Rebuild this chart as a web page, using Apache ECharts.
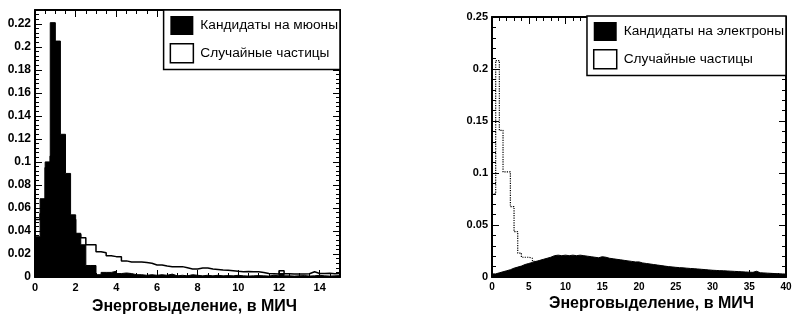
<!DOCTYPE html>
<html><head><meta charset="utf-8">
<script src="https://cdn.jsdelivr.net/npm/echarts@6/dist/echarts.min.js"></script>
<style>html,body{margin:0;padding:0;background:#fff}#c{width:795px;height:314px}</style>
</head><body><div id="c"></div>
<script>
// ---- data ----
const axisTitle = 'Энерговыделение, в МИЧ';
const muonName = 'Кандидаты на мюоны';
const electronName = 'Кандидаты на электроны';
const randomName = 'Случайные частицы';

const muonBinWidth = 0.25;   // 60 bins, 0..15
const muonCandidates = [
  0.035, 0.068, 0.100, 0.221, 0.205, 0.124, 0.090, 0.054, 0.038, 0.028,
  0.010, 0.010, 0.002, 0.004, 0.004, 0.005, 0.003, 0.0035, 0.003, 0.002,
  0.002, 0.0015, 0.002, 0.0015, 0.002, 0.0015, 0.0025, 0.001, 0.0015, 0.001,
  0.002, 0.0015, 0.001, 0.0015, 0.001, 0.0015, 0.001, 0.0012, 0.001, 0.0015,
  0.001, 0.0008, 0.001, 0.0012, 0.001, 0.0008, 0.0015, 0.001, 0.003, 0.001,
  0.0008, 0.001, 0.0012, 0.0008, 0.001, 0.0015, 0.001, 0.0008, 0.001, 0.0012
];
const muonRandom = [
  0.050, 0.055, 0.095, 0.105, 0.075, 0.068, 0.050, 0.050, 0.037, 0.034,
  0.028, 0.028, 0.022, 0.021, 0.0185, 0.0177, 0.0175, 0.014, 0.013, 0.013,
  0.013, 0.0125, 0.012, 0.0105, 0.0105, 0.0095, 0.009, 0.009, 0.009, 0.008,
  0.007, 0.007, 0.0078, 0.0078, 0.007, 0.0065, 0.006, 0.0058, 0.0055, 0.005,
  0.0046, 0.0048, 0.0045, 0.0046, 0.004, 0.003, 0.0028, 0.0026, 0.0055, 0.0028,
  0.0026, 0.0025, 0.0026, 0.0028, 0.0045, 0.003, 0.003, 0.0032, 0.0028, 0.003
];

const elecBinWidth = 0.5;    // 80 bins, 0..40
const electronCandidates = [
  0.003, 0.004, 0.005, 0.006, 0.007, 0.0085, 0.0095, 0.0105, 0.012, 0.013,
  0.014, 0.015, 0.016, 0.017, 0.018, 0.019, 0.0205, 0.021, 0.0205, 0.021,
  0.0205, 0.021, 0.0205, 0.021, 0.0205, 0.020, 0.0195, 0.019, 0.0185, 0.0195,
  0.019, 0.018, 0.0175, 0.017, 0.0165, 0.016, 0.0155, 0.015, 0.0145, 0.0145,
  0.0135, 0.013, 0.0125, 0.012, 0.0115, 0.011, 0.0105, 0.010, 0.0097, 0.0093,
  0.009, 0.0088, 0.0085, 0.0082, 0.008, 0.0077, 0.0074, 0.0071, 0.0068, 0.0065,
  0.0063, 0.0061, 0.006, 0.0058, 0.0056, 0.0054, 0.0052, 0.005, 0.0048, 0.0046,
  0.0045, 0.0055, 0.0041, 0.0039, 0.0037, 0.0035, 0.0033, 0.0031, 0.003, 0.0028
];
const electronRandom = [
  0.080, 0.208, 0.141, 0.101, 0.101, 0.0676, 0.0436, 0.023, 0.019, 0.019,
  0.018, 0.015, 0.013, 0.012, 0.011, 0.010, 0.0095, 0.009, 0.0085, 0.008,
  0.0075, 0.007, 0.0065, 0.006, 0.0058, 0.0055, 0.0052, 0.005, 0.0048, 0.0045,
  0.0043, 0.004, 0.0038, 0.0036, 0.0034, 0.0032, 0.003, 0.0029, 0.0028, 0.0027,
  0.0026, 0.0025, 0.0024, 0.0023, 0.0022, 0.0021, 0.002, 0.0019, 0.0018, 0.0018,
  0.0017, 0.0016, 0.0016, 0.0015, 0.0015, 0.0014, 0.0014, 0.0013, 0.0013, 0.0012,
  0.0012, 0.0011, 0.0011, 0.001, 0.001, 0.001, 0.0009, 0.0009, 0.0009, 0.0008,
  0.0008, 0.0008, 0.0007, 0.0007, 0.0007, 0.0006, 0.0006, 0.0006, 0.0005, 0.0005
];

const leftXTicks = [0, 2, 4, 6, 8, 10, 12, 14];
const leftYTicks = [0, 0.02, 0.04, 0.06, 0.08, 0.1, 0.12, 0.14, 0.16, 0.18, 0.2, 0.22];
const rightXTicks = [0, 5, 10, 15, 20, 25, 30, 35, 40];
const rightYTicks = [0, 0.05, 0.1, 0.15, 0.2, 0.25];

// ---- build ----
function steps(vals, w) {
  const d = vals.map((v, i) => [i * w, v]);
  d.push([vals.length * w, vals[vals.length - 1]]);
  return d;
}
function fmt(list) {
  return function (v) {
    const t = list.find(t => Math.abs(t - v) < 1e-7);
    return t === undefined ? '' : String(t);
  };
}
const FONT = 'Liberation Sans';
const BLACK = '#000';

function xAx(grid, max, interval, split, ticks, top, fs) {
  return {
    type: 'value', gridIndex: grid, min: 0, max: max, interval: interval,
    position: top ? 'top' : 'bottom',
    axisLine: { show: true, onZero: false, lineStyle: { color: BLACK, width: 2 } },
    axisTick: { show: true, inside: true, length: 7, lineStyle: { color: BLACK, width: 1 } },
    minorTick: { show: true, splitNumber: split, length: 4, lineStyle: { color: BLACK, width: 1 } },
    splitLine: { show: false },
    axisLabel: { show: !top, formatter: fmt(ticks), fontFamily: FONT, fontWeight: 'bold', fontSize: fs, color: BLACK, margin: 5 }
  };
}
function yAx(grid, max, interval, split, ticks, right, fs) {
  return {
    type: 'value', gridIndex: grid, min: 0, max: max, interval: interval,
    position: right ? 'right' : 'left',
    axisLine: { show: true, onZero: false, lineStyle: { color: BLACK, width: 2 } },
    axisTick: { show: true, inside: true, length: 7, lineStyle: { color: BLACK, width: 1 } },
    minorTick: { show: true, splitNumber: split, length: 4, lineStyle: { color: BLACK, width: 1 } },
    splitLine: { show: false },
    axisLabel: { show: !right, formatter: fmt(ticks), fontFamily: FONT, fontWeight: 'bold', fontSize: fs, color: BLACK, margin: 4 }
  };
}
function legend(name, right, top) {
  return {
    orient: 'vertical', right: right, top: top,
    data: [
      { name: name, icon: 'rect', itemStyle: { color: BLACK, borderWidth: 0 } },
      { name: randomName, icon: 'rect', itemStyle: { color: '#fff', borderColor: BLACK, borderWidth: 1.5 } }
    ],
    itemWidth: 23, itemHeight: 19, itemGap: 8,
    padding: [6, 2, 6, 6],
    borderColor: BLACK, borderWidth: 1.5, backgroundColor: '#fff',
    textStyle: { fontFamily: FONT, fontSize: 13.7, color: BLACK, padding: [0, 0, 0, 2] },
    selectedMode: false
  };
}

const chart = echarts.init(document.getElementById('c'), null, { renderer: 'canvas' });
chart.setOption({
  animation: false,
  backgroundColor: '#fff',
  grid: [
    { left: 35, top: 10, width: 305, height: 267 },
    { left: 492, top: 17, width: 294, height: 260 }
  ],
  xAxis: [
    xAx(0, 15, 2, 4, leftXTicks, false, 11),
    xAx(0, 15, 2, 4, leftXTicks, true, 11),
    xAx(1, 40, 5, 5, rightXTicks, false, 10),
    xAx(1, 40, 5, 5, rightXTicks, true, 10)
  ],
  yAxis: [
    yAx(0, 0.232, 0.02, 5, leftYTicks, false, 12),
    yAx(0, 0.232, 0.02, 5, leftYTicks, true, 12),
    yAx(1, 0.25, 0.05, 5, rightYTicks, false, 11),
    yAx(1, 0.25, 0.05, 5, rightYTicks, true, 11)
  ],
  legend: [legend(muonName, 455, 10), legend(electronName, 9, 16)],
  title: [
    { text: axisTitle, left: 92, top: 299, padding: 0, textStyle: { fontFamily: FONT, fontSize: 16, fontWeight: 'bold', color: BLACK } },
    { text: axisTitle, left: 549, top: 296, padding: 0, textStyle: { fontFamily: FONT, fontSize: 16, fontWeight: 'bold', color: BLACK } }
  ],
  series: [
    { name: randomName, type: 'line', step: 'end', xAxisIndex: 0, yAxisIndex: 0, z: 2,
      symbol: 'none', data: steps(muonRandom, muonBinWidth),
      lineStyle: { color: BLACK, width: 1.5 }, itemStyle: { color: BLACK } },
    { name: muonName, type: 'line', step: 'end', xAxisIndex: 0, yAxisIndex: 0, z: 3,
      symbol: 'none', data: steps(muonCandidates, muonBinWidth),
      lineStyle: { color: BLACK, width: 1 }, itemStyle: { color: BLACK },
      areaStyle: { color: BLACK, opacity: 1 } },
    { name: randomName, type: 'line', step: 'end', xAxisIndex: 2, yAxisIndex: 2, z: 2,
      symbol: 'none', data: steps(electronRandom, elecBinWidth),
      lineStyle: { color: BLACK, width: 1.2, type: 'dotted' }, itemStyle: { color: BLACK } },
    { name: electronName, type: 'line', step: 'end', xAxisIndex: 2, yAxisIndex: 2, z: 3,
      symbol: 'none', data: steps(electronCandidates, elecBinWidth),
      lineStyle: { color: BLACK, width: 1 }, itemStyle: { color: BLACK },
      areaStyle: { color: BLACK, opacity: 1 } }
  ]
});
</script>
</body></html>
